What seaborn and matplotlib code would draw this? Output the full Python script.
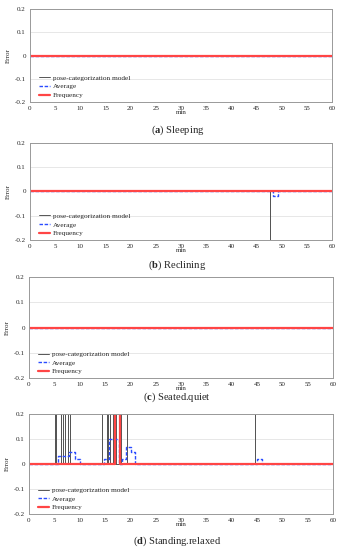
import numpy as np
import pandas as pd
import seaborn as sns
import matplotlib.pyplot as plt

# minutes where the pose-categorization model error jumps off the chart
model_a_spikes = []
model_b_spikes = [47.7]
model_c_spikes = []
model_d_spikes = [5.1, 5.3, 6.4, 6.8, 7.1, 7.6, 8.1, 14.5, 15.3, 15.6, 16.0,
                  16.5, 17.1, 18.0, 18.2, 19.3, 44.7]
model_b_value = -1.0
model_d_value = 1.0

# average error, step breakpoints (minutes) and values
avg_a_t = [0, 60]
avg_a = [0, 0]
avg_b_t = [0, 48.2, 49.2, 60]
avg_b = [0, -0.02, 0, 0]
avg_c_t = [0, 60]
avg_c = [0, 0]
avg_d_t = [0, 5.7, 7.9, 9.0, 10.1, 14.8, 15.7, 17.8, 18.4, 19.2, 20.1, 21.0, 45.0, 46.0, 60]
avg_d = [0, 0.033, 0.05, 0.02, 0, 0.02, 0.10, 0, 0.02, 0.07, 0.05, 0, 0.02, 0, 0]

# frequency error
freq_a_t = [0, 60]
freq_a = [0, 0]
freq_b_t = [0, 60]
freq_b = [0, 0]
freq_c_t = [0, 60]
freq_c = [0, 0]
freq_d_t = [0, 16.9, 18.0, 60]
freq_d = [0, 1, 0, 0]

captions = [("a", "Sleeping"), ("b", "Reclining"), ("c", "Seated.quiet"), ("d", "Standing.relaxed")]

sns.set_theme(style="white")
plt.rcParams["font.family"] = ["Liberation Serif", "DejaVu Serif"]
plt.rcParams["mathtext.fontset"] = "custom"
plt.rcParams["mathtext.rm"] = "Liberation Serif"
plt.rcParams["mathtext.bf"] = "Liberation Serif:bold"


def spike_series(spikes, value):
    xs, ys = [0.0], [0.0]
    for t in sorted(spikes):
        xs += [t, t, t]
        ys += [0.0, value, 0.0]
    xs.append(60.0)
    ys.append(0.0)
    return pd.DataFrame({"min": xs, "err": ys})


panels = [
    (model_a_spikes, 1.0, avg_a_t, avg_a, freq_a_t, freq_a),
    (model_b_spikes, model_b_value, avg_b_t, avg_b, freq_b_t, freq_b),
    (model_c_spikes, 1.0, avg_c_t, avg_c, freq_c_t, freq_c),
    (model_d_spikes, model_d_value, avg_d_t, avg_d, freq_d_t, freq_d),
]

# axes boxes in pixels: left, right, top, bottom
boxes = [(30, 332, 9, 102), (30, 332, 143, 240), (29, 333, 277, 378), (29, 333, 414, 514)]
caption_y = [130, 265, 397, 541]

W, H = 341, 550
fig = plt.figure(figsize=(W / 100, H / 100), dpi=100)

for i, (spk, val, at, av, ft, fv) in enumerate(panels):
    l, r, t, b = boxes[i]
    ax = fig.add_axes([l / W, 1 - b / H, (r - l) / W, (b - t) / H])
    sp = spike_series(spk, val)
    sns.lineplot(data=sp, x="min", y="err", sort=False, estimator=None, ax=ax,
                 color="#555555", lw=0.7, label="pose-categorization model")
    sns.lineplot(x=at, y=av, sort=False, estimator=None, ax=ax, color="#2a4cff",
                 lw=1.0, drawstyle="steps-post", label="Average")
    ax.lines[-1].set_dashes((2.5, 1.2))
    sns.lineplot(x=ft, y=fv, sort=False, estimator=None, ax=ax, color="#ff4545",
                 lw=1.6, drawstyle="steps-post", label="Frequency")
    ax.set_xlim(0, 60)
    ax.set_ylim(-0.2, 0.2)
    ax.set_xticks(range(0, 61, 5))
    ax.set_yticks([-0.2, -0.1, 0, 0.1, 0.2])
    ax.set_yticklabels(["-0.2", "-0.1", "0", "0.1", "0.2"])
    ax.yaxis.grid(True, color="#dddddd", lw=0.5)
    ax.tick_params(labelsize=5, length=0, pad=3)
    for s in ax.spines.values():
        s.set_color("#999999")
        s.set_linewidth(0.7)
    ax.set_xlabel("min", fontsize=5, labelpad=-1)
    ax.set_ylabel("Error", fontsize=5, labelpad=3)
    ax.legend(loc="lower left", bbox_to_anchor=(0.01, -0.02), frameon=False,
              fontsize=5.2, handlelength=1.6, handletextpad=0.3, labelspacing=0.35,
              borderpad=0.3)
    letter, name = captions[i]
    fig.text(0.52, 1 - caption_y[i] / H, r"($\bf{" + letter + "}$) " + name,
             ha="center", va="center", fontsize=7.6)

fig.savefig("out.png", dpi=100)
